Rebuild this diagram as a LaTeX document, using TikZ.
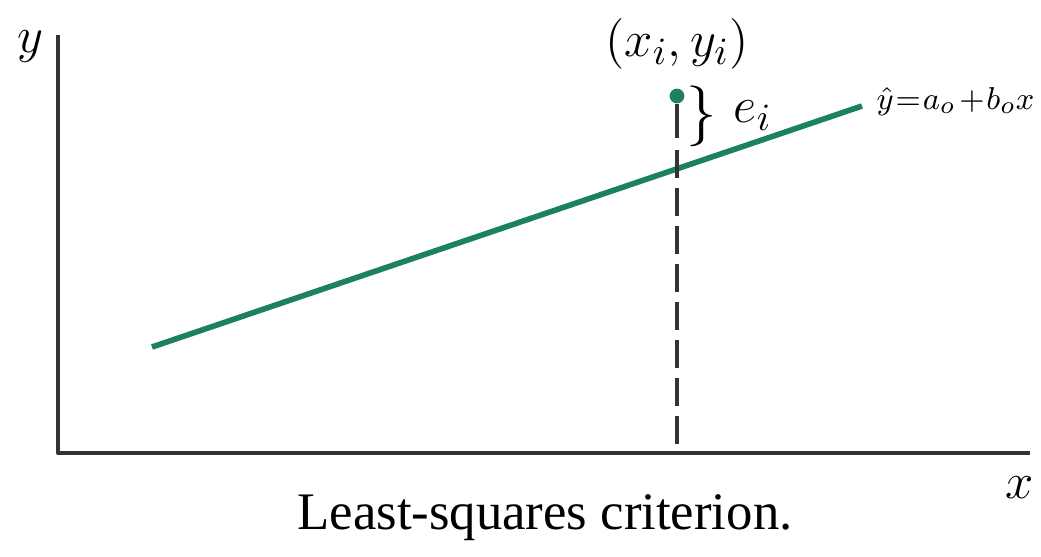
\documentclass[tikz,border=0pt]{standalone}
\usepackage{fontspec}
\setmainfont{Liberation Serif}
\usetikzlibrary{positioning}
\definecolor{fitgreen}{RGB}{28,128,98}

\begin{document}
\begin{tikzpicture}[x=0.01cm, y=-0.01cm, line join=round, font=\fontsize{15}{18}\selectfont]
    \useasboundingbox (0,0) rectangle (1041,556);
    \path
    (58,35) coordinate (Y)
    (58,453) coordinate (O)
    (1030,453) coordinate (X)
    (152,347) coordinate (P)
    (862,106) coordinate (Q)
    (677,138) coordinate (S)
    (677,150) coordinate (T)
    (677,453) coordinate (F)
    ;
    \draw[line width=1.1pt, black!80] (Y)--(O)--(X);
    \draw[fitgreen, line width=1.6pt] (P)--(Q);
    \node[circle, fill=fitgreen, inner sep=0pt, minimum size=4.2pt] (pt) at (677,96) {};
    \draw[line width=0.9pt, black!80] (pt)--(S);
    \draw[line width=0.9pt, black!80, dash pattern=on 8pt off 2.8pt] (T)--(F);
    % labels
    \node (ylab) at (30,47) {$y$};
    \node (xlab) at (1020,488) {$x$};
    \node (ptlab) at (677,44) {$(x_i, y_i)$};
    \node[scale=1.2] (brace) at (702,116) {$\big\}$};
    \node[right=-3pt of brace] (err) {$e_i$};
    \node[anchor=west, inner sep=0pt, font=\fontsize{9.5}{12}\selectfont] (fit) at (876,102)
        {$\hat{y}\mkern1mu{=}\mkern1mu a_o\mkern2mu{+}\mkern1mu b_o x$};
    \node (cap) at (545,518) {Least-squares criterion.};
\end{tikzpicture}
\end{document}
